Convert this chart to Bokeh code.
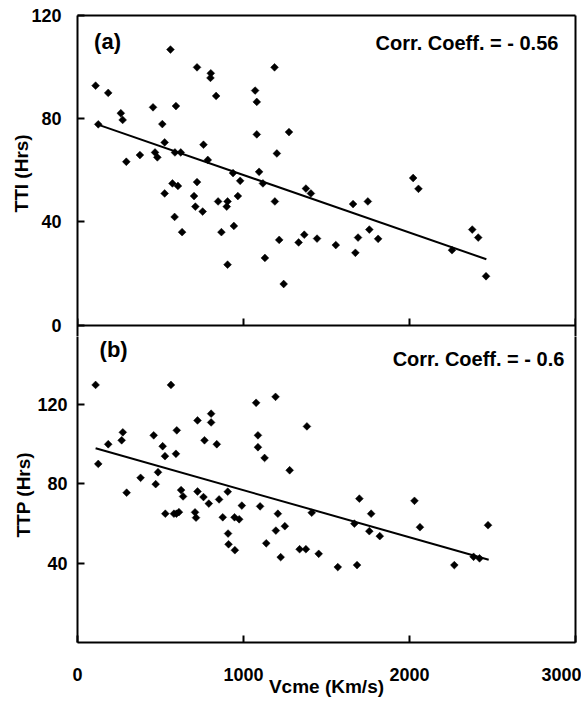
import numpy as np
from bokeh.plotting import figure
from bokeh.layouts import column
from bokeh.models import Range1d, FixedTicker, Label, LinearAxis
from bokeh.embed import file_html
from bokeh.resources import INLINE

# ---------------- data ----------------
vcme_a = [109, 185, 125, 261, 272, 294, 376, 455, 467, 481, 511, 525, 560, 593, 587,
          622, 720, 803, 801, 835, 759, 785, 1070, 1080, 1080, 1187, 1274, 1201, 1094,
          525, 572, 605, 585, 630, 720, 702, 710, 754, 847, 904, 899, 867, 942, 904,
          937, 980, 966, 1117, 1189, 1129, 1215, 1242, 1332, 1366, 1443, 1376, 1406,
          1556, 1660, 1749, 1690, 1674, 1758, 1811, 2022, 2054, 2256, 2378, 2414, 2461]
tti = [92.8, 90.0, 77.8, 82.1, 79.5, 63.3, 65.9, 84.4, 66.9, 65.0, 77.9, 70.8, 106.8,
       84.9, 66.9, 66.9, 99.9, 97.6, 95.8, 88.8, 69.9, 64.0, 90.9, 86.5, 73.9, 99.9,
       74.8, 66.5, 59.4, 51.0, 54.9, 53.9, 41.9, 36.0, 55.4, 50.0, 45.9, 44.0, 47.9,
       47.9, 45.9, 36.0, 38.4, 23.4, 58.9, 55.9, 50.0, 54.9, 47.9, 26.0, 33.0, 15.9,
       32.0, 35.0, 33.5, 52.9, 51.0, 31.0, 46.9, 47.9, 33.9, 28.0, 37.0, 33.4, 57.0,
       52.8, 29.0, 37.0, 33.9, 18.9]

vcme_b = [109, 125, 185, 266, 273, 296, 380, 459, 471, 485, 513, 527, 563, 593, 598,
          624, 636, 723, 805, 805, 765, 839, 723, 759, 853, 905, 1076, 1193, 1087, 1087,
          1127, 1278, 1382, 1698, 2030, 791, 529, 581, 596, 611, 708, 714, 875, 907,
          910, 946, 974, 948, 990, 1100, 1137, 1207, 1195, 1249, 1224, 1338, 1376,
          1453, 1411, 1568, 1769, 1668, 1758, 1821, 1684, 2063, 2270, 2386, 2422, 2473]
ttp = [129.8, 90.0, 99.9, 101.9, 105.9, 75.5, 83.0, 104.4, 79.8, 85.8, 98.9, 93.9,
       129.8, 95.1, 106.9, 76.8, 73.6, 111.9, 115.3, 110.9, 101.9, 99.9, 76.1, 73.3,
       72.1, 76.0, 120.8, 123.8, 104.4, 98.4, 93.0, 86.8, 108.9, 72.5, 71.4, 70.0,
       64.9, 64.9, 64.9, 65.7, 65.6, 62.9, 63.1, 54.9, 49.5, 63.1, 62.1, 46.5, 69.0,
       68.6, 50.0, 64.9, 56.4, 58.6, 43.0, 47.0, 47.0, 44.7, 65.4, 38.0, 64.9, 59.9,
       56.1, 53.6, 39.0, 58.1, 39.0, 43.2, 42.4, 59.1]

# regression lines (end points)
fit_x_a = [119, 2463]
fit_tti = [77.8, 25.5]
fit_x_b = [109, 2477]
fit_ttp = [97.9, 41.7]

x_ticks = [0, 1000, 2000, 3000]
tti_ticks = [0, 40, 80, 120]
ttp_ticks = [40, 80, 120]
TTI_MAX = 120
TTP_MAX = 160

FONT = "Liberation Sans"
NB = "\u00a0"

# pixel geometry of the two panels
TOP = 15          # top of panel (a)
DIV = 324.5       # divider between panels
CUT = 336         # where the first canvas ends
BOT = 642         # bottom of panel (b)
a_start = -TTI_MAX * (CUT - DIV) / (DIV - TOP)
b_end = TTP_MAX * (BOT - CUT) / (BOT - DIV)


def style_axis(ax):
    ax.axis_line_color = "black"
    ax.axis_line_width = 2
    ax.major_tick_line_color = "black"
    ax.major_tick_line_width = 2
    ax.major_tick_in = 7
    ax.major_tick_out = 0
    ax.minor_tick_line_color = None
    ax.major_label_text_font = FONT
    ax.major_label_text_font_style = "bold"
    ax.major_label_text_font_size = "18px"
    ax.major_label_text_color = "black"
    ax.axis_label_text_font = FONT
    ax.axis_label_text_font_style = "bold"
    ax.axis_label_text_font_size = "19px"
    ax.axis_label_text_color = "black"


def border_axis():
    return LinearAxis(ticker=FixedTicker(ticks=[]), major_label_standoff=0,
                      axis_line_color="black", axis_line_width=2,
                      major_tick_line_color=None, minor_tick_line_color=None)


def base(p):
    p.outline_line_color = None
    p.xgrid.visible = False
    p.ygrid.visible = False
    p.background_fill_color = "white"
    p.border_fill_color = "white"


# ---------------- panel (a) ----------------
p1 = figure(width=581, height=CUT, x_range=Range1d(0, 3000),
            y_range=Range1d(a_start, TTI_MAX), output_backend="svg",
            toolbar_location=None, x_axis_location=None,
            min_border_left=77, min_border_right=6, min_border_top=TOP,
            min_border_bottom=0)
base(p1)
p1.scatter(vcme_a, tti, marker="square", size=5.5, angle=np.pi / 4,
           fill_color="black", line_color="black", line_width=0.5)
p1.line(fit_x_a, fit_tti, line_color="black", line_width=2)

ya = p1.yaxis[0]
style_axis(ya)
ya.ticker = FixedTicker(ticks=tti_ticks)
ya.major_label_standoff = 16
ya.axis_label = NB + "TTI (Hrs)"
ya.axis_label_standoff = -4

# divider = x axis of panel (a) at TTI = 0, ticks pointing up, no labels
div = LinearAxis(fixed_location=0, ticker=FixedTicker(ticks=x_ticks))
style_axis(div)
div.major_label_text_color = None
p1.add_layout(div, "below")
p1.add_layout(border_axis(), "above")
p1.add_layout(border_axis(), "right")

p1.add_layout(Label(x=100, y=110, text="(a)", text_font=FONT,
                    text_font_style="bold", text_font_size="22px", text_baseline="middle",
                    text_align="left", text_color="black"))
p1.add_layout(Label(x=2897, y=109.5, text="Corr. Coeff. = - 0.56",
                    text_font=FONT, text_font_style="bold", text_font_size="20px",
                    text_baseline="middle", text_align="right", text_color="black"))

# ---------------- panel (b) ----------------
p2 = figure(width=581, height=705 - CUT, x_range=Range1d(0, 3000),
            y_range=Range1d(0, b_end), output_backend="svg", toolbar_location=None,
            min_border_left=77, min_border_right=6, min_border_top=0,
            min_border_bottom=705 - BOT)
base(p2)
p2.scatter(vcme_b, ttp, marker="square", size=5.5, angle=np.pi / 4,
           fill_color="black", line_color="black", line_width=0.5)
p2.line(fit_x_b, fit_ttp, line_color="black", line_width=2)

yb = p2.yaxis[0]
style_axis(yb)
yb.ticker = FixedTicker(ticks=ttp_ticks)
yb.major_label_standoff = 10
yb.axis_label = "TTP (Hrs)" + NB * 2
yb.axis_label_standoff = 0

xb = p2.xaxis[0]
style_axis(xb)
xb.ticker = FixedTicker(ticks=x_ticks)
xb.major_label_standoff = 25
xb.axis_label = "Vcme (Km/s)"
xb.axis_label_standoff = -8
p2.add_layout(border_axis(), "right")

p2.add_layout(Label(x=133, y=147.6, text="(b)", text_font=FONT, text_font_style="bold",
                    text_font_size="22px", text_baseline="middle", text_align="left",
                    text_color="black"))
p2.add_layout(Label(x=2933, y=142.9, text="Corr. Coeff. = - 0.6", text_font=FONT,
                    text_font_style="bold", text_font_size="20px",
                    text_baseline="middle", text_align="right", text_color="black"))

layout = column(p1, p2, spacing=0)
open("out.html", "w").write(file_html(layout, INLINE))
